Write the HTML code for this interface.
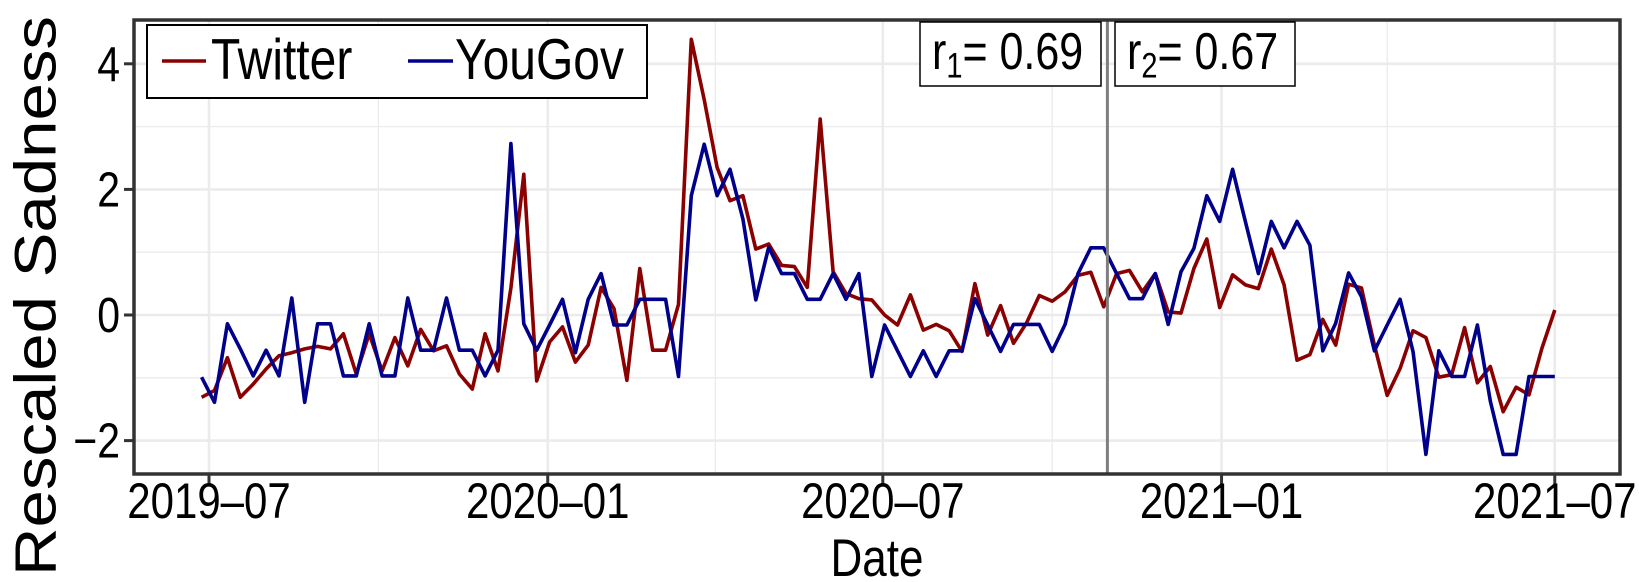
<!DOCTYPE html>
<html><head><meta charset="utf-8"><style>
html,body{margin:0;padding:0;background:#fff;}
svg{display:block;font-family:"Liberation Sans",Arial,sans-serif;}
</style></head><body>
<svg id="chart" width="1639" height="582" viewBox="0 0 1639 582" xmlns="http://www.w3.org/2000/svg">
<g id="grid"></g>
<g id="series"></g>
<line x1="0" y1="0" x2="0" y2="0" id="vline" stroke="#7f7f7f" stroke-width="3"/>
<rect x="134" y="20" width="1486" height="454" fill="none" stroke="#333" stroke-width="3.5"/>
<g id="axes"></g>
<text x="40" y="296" font-size="58" text-anchor="middle" textLength="560" lengthAdjust="spacingAndGlyphs" transform="rotate(-90 40 296)" dominant-baseline="middle">Rescaled Sadness</text>
<text transform="translate(877,576) scale(1,1.2)" font-size="44" text-anchor="middle">Date</text>
<g>
<rect x="147" y="25" width="500" height="73" fill="#fff" stroke="#000" stroke-width="2"/>
<line x1="162" y1="61" x2="206" y2="61" stroke="#8b0000" stroke-width="3.5"/>
<text transform="translate(211,79) scale(1,1.2)" font-size="48">Twitter</text>
<line x1="408" y1="61" x2="453" y2="61" stroke="#00008b" stroke-width="3.5"/>
<text transform="translate(455,79) scale(1,1.2)" font-size="48">YouGov</text>
</g>
<g>
<rect x="920" y="22" width="181" height="64" fill="#fff" stroke="#000" stroke-width="1.5"/>
<text transform="translate(932,69) scale(1,1.2)" font-size="43">r<tspan font-size="29" dy="7">1</tspan><tspan dy="-7">= 0.69</tspan></text>
</g>
<g>
<rect x="1115" y="22" width="180" height="64" fill="#fff" stroke="#000" stroke-width="1.5"/>
<text transform="translate(1127,69) scale(1,1.2)" font-size="43">r<tspan font-size="29" dy="7">2</tspan><tspan dy="-7">= 0.67</tspan></text>
</g>
</svg>
<script>
const startDate = "2019-06-27";
const twitter = [-1.31,-1.2,-0.68,-1.31,-1.1,-0.86,-0.65,-0.6,-0.54,-0.5,-0.54,-0.3,-0.94,-0.3,-0.89,-0.36,-0.81,-0.23,-0.57,-0.49,-0.94,-1.18,-0.3,-0.89,0.43,2.24,-1.05,-0.43,-0.19,-0.75,-0.48,0.44,0.1,-1.04,0.74,-0.56,-0.56,0.17,4.39,3.43,2.35,1.82,1.9,1.05,1.13,0.79,0.77,0.44,3.12,0.69,0.34,0.26,0.24,0.0,-0.16,0.32,-0.24,-0.15,-0.25,-0.58,0.5,-0.32,0.15,-0.45,-0.13,0.31,0.22,0.37,0.63,0.68,0.13,0.66,0.71,0.37,0.66,0.05,0.03,0.74,1.21,0.12,0.64,0.48,0.42,1.05,0.48,-0.72,-0.63,-0.07,-0.48,0.49,0.43,-0.48,-1.28,-0.85,-0.25,-0.36,-0.99,-0.95,-0.2,-1.08,-0.82,-1.54,-1.15,-1.27,-0.53,0.08];
const yougov = [-0.99,-1.39,-0.14,-0.54,-0.97,-0.56,-0.97,0.27,-1.39,-0.14,-0.14,-0.97,-0.97,-0.14,-0.97,-0.97,0.27,-0.56,-0.56,0.27,-0.56,-0.56,-0.97,-0.56,2.73,-0.14,-0.56,-0.16,0.25,-0.6,0.25,0.66,-0.16,-0.16,0.25,0.25,0.25,-0.98,1.9,2.72,1.9,2.32,1.53,0.24,1.08,0.66,0.66,0.25,0.25,0.66,0.25,0.66,-0.98,-0.16,-0.57,-0.98,-0.57,-0.98,-0.57,-0.57,0.26,-0.16,-0.58,-0.15,-0.15,-0.15,-0.58,-0.15,0.66,1.07,1.07,0.66,0.26,0.26,0.66,-0.15,0.69,1.06,1.9,1.49,2.32,1.48,0.66,1.49,1.07,1.49,1.11,-0.57,-0.13,0.67,0.29,-0.57,-0.16,0.25,-0.58,-2.22,-0.57,-0.98,-0.98,-0.16,-1.37,-2.22,-2.22,-0.98,-0.98,-0.98];
const yTicks = [-2,0,2,4];
const yTickLabels = ["\u22122","0","2","4"];
const yMinor = [-1,1,3];
const xTicks = ["2019-07-01","2020-01-01","2020-07-01","2021-01-01","2021-07-01"];
const xTickLabels = ["2019\u201307","2020\u201301","2020\u201307","2021\u201301","2021\u201307"];
const xMinor = ["2019-10-01","2020-04-01","2020-10-01","2021-04-01"];
const splitDate = "2020-10-31";

const NS="http://www.w3.org/2000/svg";
const origin = Date.UTC(2019,6,1);
function dayOf(s){const p=s.split("-").map(Number);return (Date.UTC(p[0],p[1]-1,p[2])-origin)/86400000;}
function xs(s){return 209 + dayOf(s)*1.841;}
function ys(v){return 315 - v*62.8;}
const L=134,R=1620,T=20,B=474;
function mk(tag,attrs,parent){const e=document.createElementNS(NS,tag);for(const k in attrs)e.setAttribute(k,attrs[k]);parent.appendChild(e);return e;}
const grid=document.getElementById('grid'), axes=document.getElementById('axes'), series=document.getElementById('series');
mk('rect',{x:L,y:T,width:R-L,height:B-T,fill:'#fff'},grid);
yMinor.forEach(v=>{const e=mk('line',{x1:L,x2:R,y1:ys(v),y2:ys(v),stroke:'#ebebeb','stroke-width':1.3},grid);

});
xMinor.forEach(d=>{const e=mk('line',{x1:xs(d),x2:xs(d),y1:T,y2:B,stroke:'#ebebeb','stroke-width':1.3},grid);

});
yTicks.forEach((v,i)=>{const e=mk('line',{x1:L,x2:R,y1:ys(v),y2:ys(v),stroke:'#ebebeb','stroke-width':2.6},grid);


const t=mk('line',{x1:L-10,x2:L,y1:ys(v),y2:ys(v),stroke:'#333','stroke-width':3},axes);


const lb=mk('text',{transform:'translate('+(L-14)+','+(ys(v)+17)+') scale(1,1.2)','font-size':41,'text-anchor':'end',fill:'#000'},axes);
lb.textContent=yTickLabels[i];

});
xTicks.forEach((d,i)=>{const e=mk('line',{x1:xs(d),x2:xs(d),y1:T,y2:B,stroke:'#ebebeb','stroke-width':2.6},grid);


const t=mk('line',{x1:xs(d),x2:xs(d),y1:B,y2:B+11,stroke:'#333','stroke-width':3},axes);


const lb=mk('text',{transform:'translate('+xs(d)+','+(B+44)+') scale(1,1.2)','font-size':42,'text-anchor':'middle',fill:'#000'},axes);
lb.textContent=xTickLabels[i];

});
function dateAt(i){const d=new Date(Date.UTC(2019,5,27)+i*7*86400000);return d.toISOString().slice(0,10);}
function drawLine(vals,color,name){const pts=vals.map((v,i)=>xs(dateAt(i)).toFixed(1)+","+ys(v).toFixed(1)).join(" ");
const p=mk('polyline',{points:pts,fill:'none',stroke:color,'stroke-width':3.6,'stroke-linejoin':'round'},series);

}
drawLine(twitter,'#8b0000','twitter-line');
drawLine(yougov,'#00008b','yougov-line');
const vl=document.getElementById('vline');
vl.setAttribute('x1',xs(splitDate));vl.setAttribute('x2',xs(splitDate));vl.setAttribute('y1',T);vl.setAttribute('y2',B);
</script>
</body></html>
